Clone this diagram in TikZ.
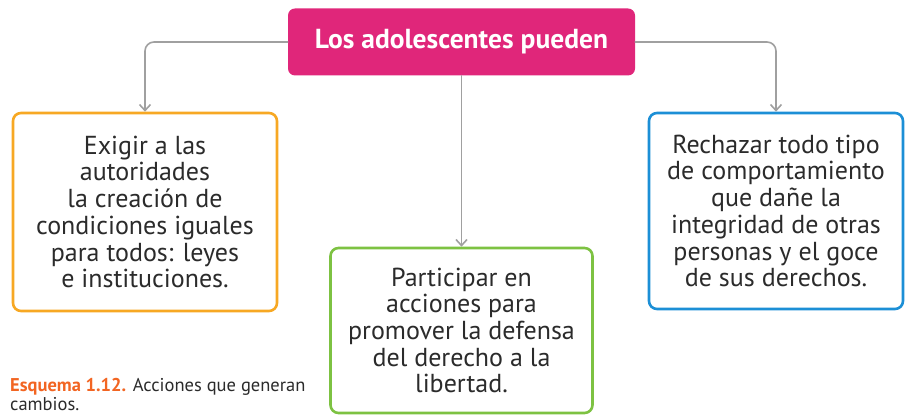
\documentclass[tikz,border=0pt]{standalone}
\usepackage{fontspec}
\setmainfont{PT Sans}
\usepackage{tikz}
\usetikzlibrary{arrows.meta}

\definecolor{rosa}{HTML}{E0267A}
\definecolor{naranja}{HTML}{F7A823}
\definecolor{verde}{HTML}{7DC242}
\definecolor{azul}{HTML}{1C8FD6}
\definecolor{gris}{HTML}{A0A0A0}
\definecolor{rotulo}{HTML}{F26522}
\definecolor{texto}{HTML}{2B2B2B}

\begin{document}
\begin{tikzpicture}[
  x=1pt,y=1pt,
  line cap=round,line join=round,
  >={Straight Barb[length=6pt,width=11pt]}
]
  \tikzset{
    titulo/.style={rectangle,rounded corners=7pt,fill=rosa,text=white,
      font=\fontsize{27.5}{30}\selectfont\bfseries,minimum width=347pt,minimum height=67pt},
    caja/.style={rectangle,rounded corners=8pt,line width=2.6pt,fill=white,
      text=texto,align=center,font=\fontsize{26}{26.7}\selectfont,inner sep=0pt},
    conector/.style={draw=gris,line width=1.6pt,rounded corners=9pt,->}
  }
  \useasboundingbox (0,0) rectangle (905,417);

  % Title box
  \node[titulo] (raiz) at (461.5,375) {Los adolescentes pueden};

  % Three boxes
  \node[caja,draw=naranja,minimum width=264pt,minimum height=198pt] (exigir) at (145,205)
    {Exigir a las\\autoridades\\la creación de\\condiciones iguales\\para todos: leyes\\e instituciones.};
  \node[caja,draw=verde,minimum width=262pt,minimum height=165pt] (participar) at (461.5,86.5)
    {Participar en\\acciones para\\promover la defensa\\del derecho a la\\libertad.};
  \node[caja,draw=azul,minimum width=254pt,minimum height=196pt] (rechazar) at (776,206)
    {Rechazar todo tipo\\de comportamiento\\que dañe la\\integridad de otras\\personas y el goce\\de sus derechos.};

  % Connectors
  \draw[conector] (raiz.west) -| (exigir.north);
  \draw[conector] (raiz.south) -- (participar.north);
  \draw[conector] (raiz.east) -| (rechazar.north);

  % Caption
  \node[anchor=base west,align=left,inner sep=0pt,text=texto,
    font=\fontsize{18.5}{19.5}\selectfont] (pie) at (10,6)
    {\textcolor{rotulo}{\bfseries Esquema 1.12.} Acciones que generan\\cambios.};
\end{tikzpicture}
\end{document}
